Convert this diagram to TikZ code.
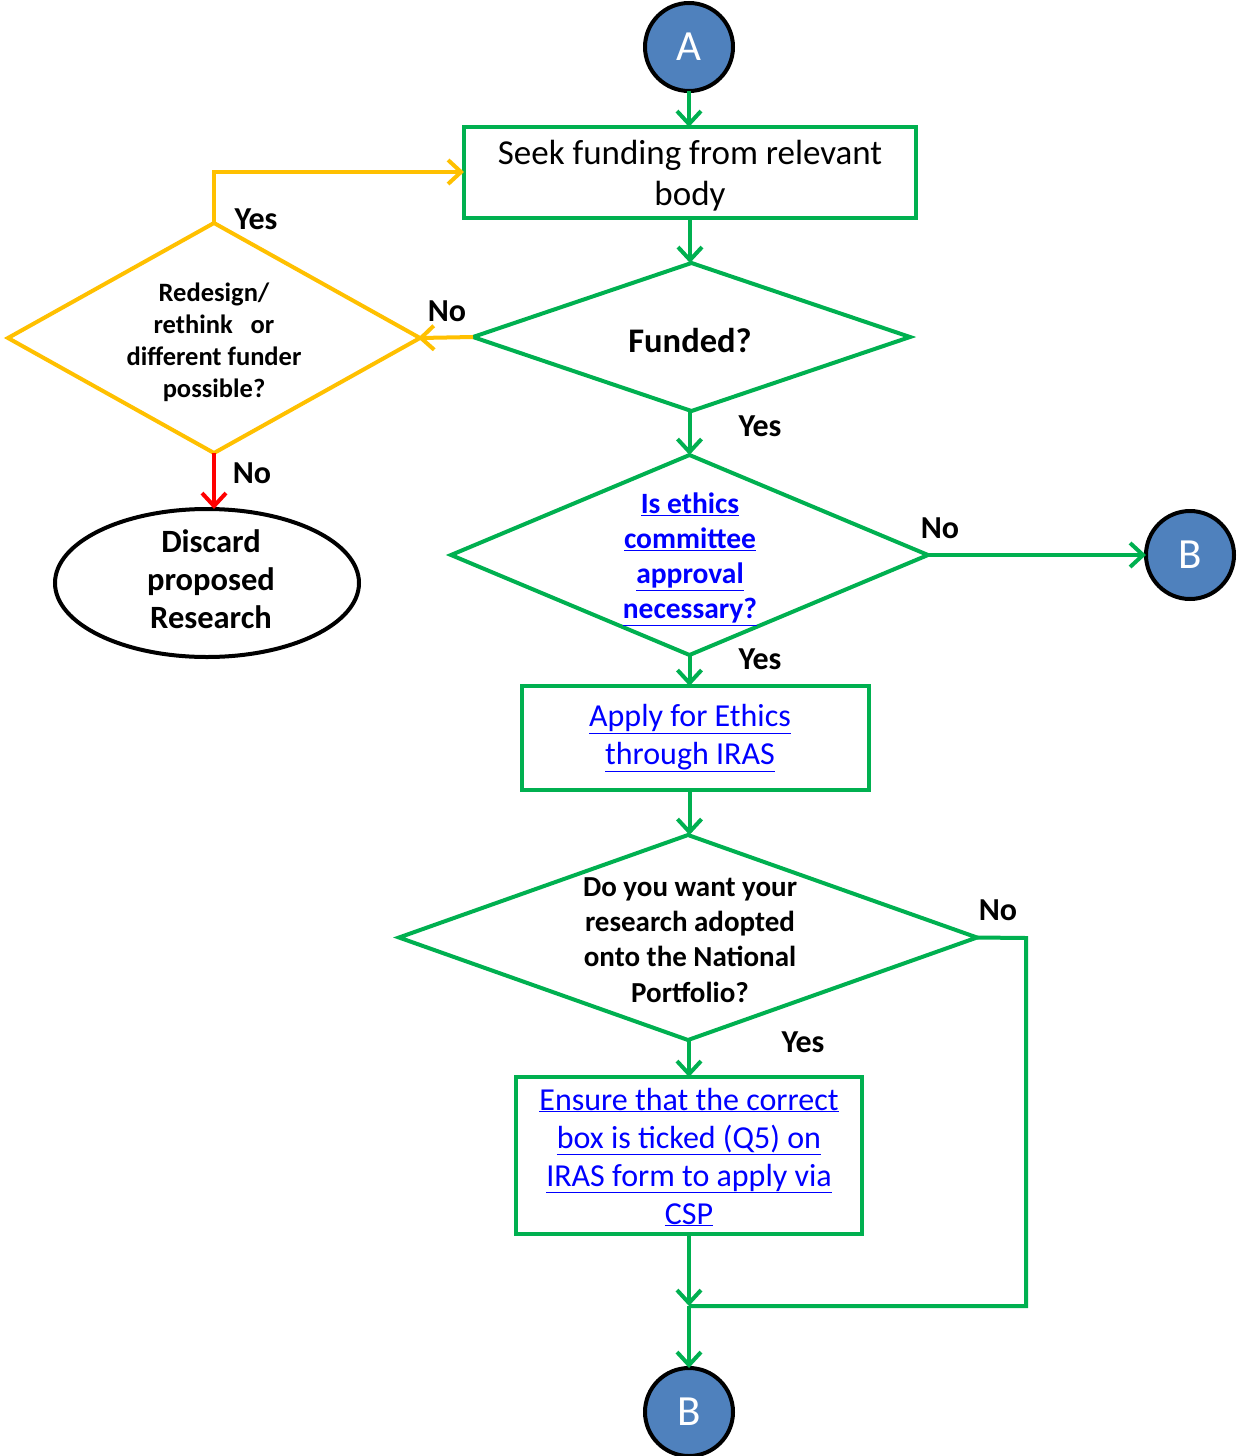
\documentclass[tikz,border=0pt]{standalone}
\usepackage{fontspec}
\setmainfont{Carlito}
\usetikzlibrary{shapes.geometric,arrows.meta}
\definecolor{fgreen}{HTML}{00B050}
\definecolor{fyellow}{HTML}{FFC000}
\definecolor{fred}{HTML}{FF0000}
\definecolor{fblue}{HTML}{4F81BD}
\definecolor{flink}{HTML}{0000FF}
\newcommand{\lk}[1]{\underline{#1}}
\tikzset{
  conn/.style={line width=4pt, draw=fgreen, -{Straight Barb[length=13pt,width=24pt]}},
  plain/.style={line width=4pt, draw=fgreen},
  gbox/.style={draw=fgreen, line width=4pt, rectangle, inner sep=0pt, outer sep=0pt},
  gdia/.style={draw=fgreen, line width=4pt, diamond, inner sep=0pt, outer sep=0pt},
  ydia/.style={draw=fyellow, line width=4pt, diamond, inner sep=0pt, outer sep=0pt},
  circ/.style={circle, draw=black, line width=4pt, fill=fblue, minimum size=88pt, inner sep=0pt, outer sep=0pt, text=white, font=\fontsize{43}{50}\selectfont},
  txt/.style={align=center, inner sep=0pt},
  lbl/.style={font=\fontsize{32}{38}\selectfont\bfseries, inner sep=0pt},
}
\begin{document}
\begin{tikzpicture}[x=1pt,y=-1pt]
\useasboundingbox (0,0) rectangle (1238,1456);
% nodes
\node[circ] (A) at (689,47) {A};
\node[gbox, minimum width=452pt, minimum height=91pt] (seek) at (690,172.5) {};
\node[txt, font=\fontsize{35}{41}\selectfont] (seekt) at (690,176) {Seek funding from relevant\\body};
\node[gdia, minimum width=437pt, minimum height=148pt] (fund) at (691.5,337) {};
\node[txt, font=\fontsize{34.5}{41}\selectfont\bfseries] (fundt) at (690,341) {Funded?};
\node[ydia, minimum width=412pt, minimum height=230pt] (redes) at (214,338) {};
\node[txt, font=\fontsize{26.5}{32}\selectfont\bfseries] (redest) at (214,342) {Redesign/\\rethink\ \ \ or\\different funder\\possible?};
\node[ellipse, draw=black, line width=4pt, minimum width=304pt, minimum height=148pt, inner sep=0pt, outer sep=0pt] (disc) at (207,583) {};
\node[txt, font=\fontsize{32.5}{38}\selectfont\bfseries] (disct) at (211,579) {Discard\\proposed\\Research};
\node[gdia, minimum width=477pt, minimum height=200pt] (eth) at (689.5,555) {};
\node[txt, font=\fontsize{29.5}{35.3}\selectfont\bfseries, text=flink] (etht) at (690,559) {\lk{Is ethics}\\\lk{committee}\\\lk{approval}\\\lk{necessary?}};
\node[circ] (B1) at (1190,555) {B};
\node[gbox, minimum width=347pt, minimum height=104pt] (apply) at (695.5,738) {};
\node[txt, font=\fontsize{32}{38}\selectfont, text=flink] (applyt) at (690,738) {\lk{Apply for Ethics}\\\lk{through IRAS}};
\node[gdia, minimum width=578pt, minimum height=205pt] (nat) at (688,937.5) {};
\node[txt, font=\fontsize{29}{35.3}\selectfont\bfseries] (natt) at (690,940) {Do you want your\\research adopted\\onto the National\\Portfolio?};
\node[gbox, minimum width=346pt, minimum height=157pt] (ens) at (689,1155.5) {};
\node[txt, font=\fontsize{32}{38}\selectfont, text=flink] (enst) at (689,1157) {\lk{Ensure that the correct}\\\lk{box is ticked (Q5) on}\\\lk{IRAS form to apply via}\\\lk{CSP}};
\node[circ] (B2) at (689,1412) {B};
\coordinate (merge) at (689,1306);
\coordinate (noturn1) at (1026,938);
\coordinate (noturn2) at (1026,1306);
\coordinate (yesturn1) at (214,172);
% connectors
\draw[conn] (A.south) -- (seek.north -| A.south);
\draw[conn] (seek.south) -- (fund.north -| seek.south);
\draw[line width=4pt, draw=fyellow, -{Straight Barb[length=13pt,width=24pt]}, shorten >=-2pt] (fund.west) -- (redes.east);
\draw[line width=4pt, draw=fyellow, -{Straight Barb[length=13pt,width=24pt]}] (redes.north) -- (yesturn1) -- (seek.west |- yesturn1);
\draw[line width=4pt, draw=fred, -{Straight Barb[length=13pt,width=24pt]}] (redes.south) -- (disc.north -| redes.south);
\draw[conn] (fund.south -| eth.north) -- (eth.north);
\draw[conn] (eth.east) -- (B1.west);
\draw[conn] (eth.south) -- (apply.north -| eth.south);
\draw[conn] (apply.south -| eth.south) -- (nat.north -| eth.south);
\draw[conn] (nat.south -| ens.north) -- (ens.north);
\draw[plain] (nat.east) -- (noturn1) -- (noturn2) -- (merge);
\draw[conn] (ens.south) -- (merge);
\draw[conn] (merge) -- (B2.north);
% labels
\node[lbl] (l1) at (256,219) {Yes};
\node[lbl] (l2) at (447,311) {No};
\node[lbl] (l3) at (252,473) {No};
\node[lbl] (l4) at (760,426) {Yes};
\node[lbl] (l5) at (940,528) {No};
\node[lbl] (l6) at (760,659) {Yes};
\node[lbl] (l7) at (998,910) {No};
\node[lbl] (l8) at (803,1042) {Yes};
\end{tikzpicture}
\end{document}
